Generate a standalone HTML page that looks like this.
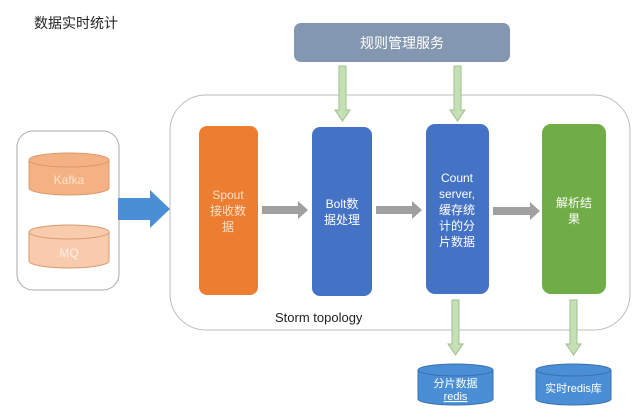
<!DOCTYPE html>
<html><head><meta charset="utf-8"><style>
html,body{margin:0;padding:0;background:#fff;}
svg{display:block;}
text{font-family:"Liberation Sans","Noto Sans CJK SC",sans-serif;}
</style></head><body>
<svg width="640" height="417" viewBox="0 0 640 417" xmlns="http://www.w3.org/2000/svg">
<text x="34" y="28" font-size="14" fill="#222">数据实时统计</text>
<!-- top service -->
<rect x="294" y="23" width="216" height="39" rx="7" fill="#8497b0"/>
<text x="402" y="48" font-size="14" fill="#fff" text-anchor="middle">规则管理服务</text>
<!-- containers -->
<rect x="170" y="95" width="460" height="235" rx="36" fill="none" stroke="#bcbcbc" stroke-width="1"/>
<rect x="17" y="131" width="102" height="159" rx="16" fill="none" stroke="#aaa" stroke-width="1"/>
<!-- Kafka cylinder -->
<g stroke="#d99a6c" stroke-width="1">
<path d="M29 160 L29 188 A40 7 0 0 0 109 188 L109 160" fill="#f4b183"/>
<ellipse cx="69" cy="160" rx="40" ry="7" fill="#f4b183"/>
<path d="M29 232 L29 261 A40 7 0 0 0 109 261 L109 232" fill="#f8cbad"/>
<ellipse cx="69" cy="232" rx="40" ry="7" fill="#f8cbad"/>
</g>
<text x="69" y="184" font-size="12" fill="#fbe3d2" text-anchor="middle">Kafka</text>
<text x="69" y="257" font-size="12" fill="#fdeee4" text-anchor="middle">MQ</text>
<!-- blue big arrow -->
<polygon points="118,198 150,198 150,190 170,209 150,228 150,220 118,220" fill="#4a8fd6"/>
<!-- columns -->
<rect x="199" y="126" width="59" height="169" rx="8" fill="#ed7d31"/>
<text font-size="12" fill="#fbe0cc" text-anchor="middle"><tspan x="228" y="199">Spout</tspan><tspan x="228" y="215">接收数</tspan><tspan x="228" y="231">据</tspan></text>
<rect x="312" y="127" width="60" height="169" rx="8" fill="#4472c4"/>
<text font-size="12" fill="#fff" text-anchor="middle"><tspan x="342" y="208">Bolt数</tspan><tspan x="342" y="224">据处理</tspan></text>
<rect x="426" y="124" width="63" height="170" rx="9" fill="#4472c4"/>
<text font-size="12" fill="#fff" text-anchor="middle"><tspan x="457" y="182">Count</tspan><tspan x="457" y="198">server,</tspan><tspan x="457" y="214">缓存统</tspan><tspan x="457" y="230">计的分</tspan><tspan x="457" y="246">片数据</tspan></text>
<rect x="542" y="124" width="64" height="170" rx="9" fill="#70ad47"/>
<text font-size="12" fill="#fff" text-anchor="middle"><tspan x="574" y="207">解析结</tspan><tspan x="574" y="223">果</tspan></text>
<!-- grey arrows -->
<g fill="#a0a0a0">
<polygon points="262,206 298,206 298,201 308,210 298,219 298,214 262,214"/>
<polygon points="376,206 412,206 412,201 422,210 412,219 412,214 376,214"/>
<polygon points="493,207 530,207 530,202 540,211 530,220 530,215 493,215"/>
</g>
<!-- green down arrows -->
<g fill="#c5e0b4" stroke="#9fbf8f" stroke-width="1">
<polygon points="339,66 346,66 346,110 350,110 342.5,121 335,110 339,110"/>
<polygon points="454,66 461,66 461,110 465,110 457.5,121 450,110 454,110"/>
<polygon points="452,300 459,300 459,344 463,344 455.5,355 448,344 452,344"/>
<polygon points="570,300 577,300 577,344 581,344 573.5,355 566,344 570,344"/>
</g>
<text x="275" y="322" font-size="13" fill="#222">Storm topology</text>
<!-- bottom cylinders -->
<g stroke="#3a6fb0" stroke-width="1">
<path d="M418 370 L418 399 A37.5 6 0 0 0 493 399 L493 370" fill="#4a8fd6"/>
<ellipse cx="455.5" cy="370" rx="37.5" ry="6" fill="#4a8fd6"/>
<path d="M536 370 L536 399 A37.5 6 0 0 0 611 399 L611 370" fill="#4a8fd6"/>
<ellipse cx="573.5" cy="370" rx="37.5" ry="6" fill="#4a8fd6"/>
</g>
<text font-size="11" fill="#fff" text-anchor="middle"><tspan x="455.5" y="387">分片数据</tspan><tspan x="455.5" y="400" text-decoration="underline">redis</tspan></text>
<text x="573.5" y="392" font-size="11" fill="#fff" text-anchor="middle">实时redis库</text>
</svg>
</body></html>
